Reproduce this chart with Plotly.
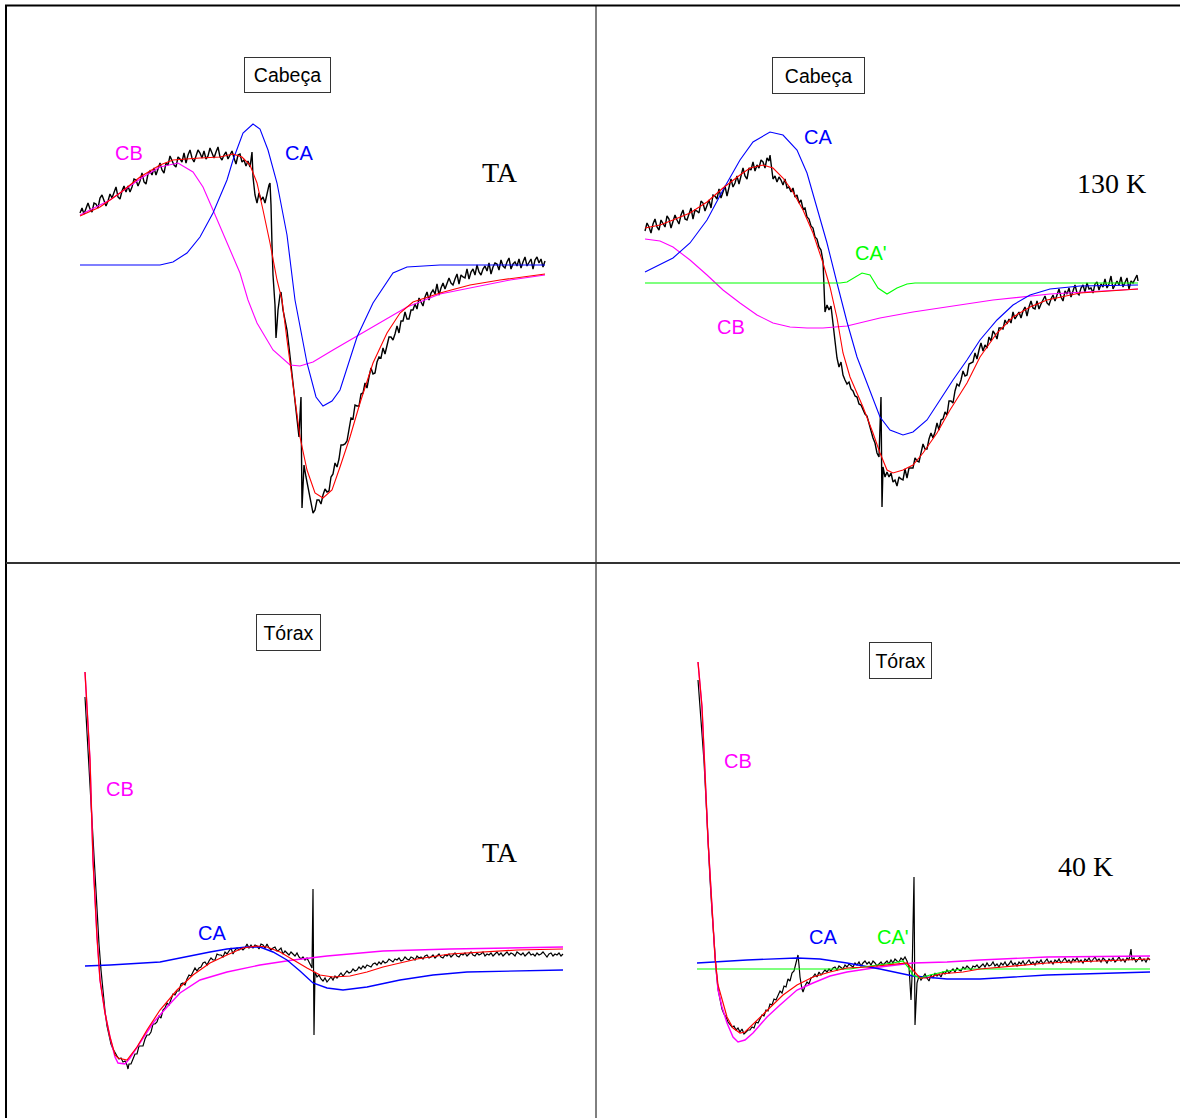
import plotly.graph_objects as go

W, H = 1180, 1118

# ---------------- Panel 1 : Cabeça, TA ----------------
p1_black = [(0,52),(2,57),(4,51),(6,57),(8,62),(10,56),(12,53),(14,62),(16,61),(18,57),(20,67),(22,70),(24,64),(26,59),(28,64),(30,71),(32,67),(34,72),(36,78),(38,68),(40,66),(42,74),(44,79),(46,73),(48,79),(50,73),(52,78),(54,86),(56,85),(58,79),(60,84),(62,92),(64,83),(66,81),(68,91),(70,94),(72,90),(74,97),(76,90),(78,96),(80,102),(82,95),(84,92),(86,102),(88,100),(90,109),(92,104),(94,100),(96,98),(98,108),(100,106),(102,103),(104,112),(106,102),(108,110),(110,115),(112,107),(114,103),(116,109),(118,115),(120,112),(122,107),(124,114),(126,106),(128,109),(130,117),(132,112),(134,107),(136,113),(138,118),(140,108),(142,105),(144,110),(146,113),(148,106),(150,111),(152,114),(154,107),(156,101),(158,110),(160,111),(162,103),(164,105),(166,99),(168,104),
            (170,98),(172,113),(173,88),(175,70),(177,62),(179,72),(181,65),(183,68),(185,62),(187,72),(189,80),(190,82),(191,60),(192,20),(193,-10),(195,-40),(196,-73),(197,-60),(198,-45),(200,-30),(201,-27),(203,-45),(205,-55),(207,-65),(209,-82),(211,-100),(213,-118),(215,-140),(217,-160),(219,-172),(220,-150),(221,-132),(222,-243),(223,-220),(224,-200),(226,-212),(228,-222),(230,-232),(232,-240),(233,-248),
            (235,-245),(237,-235),(239,-235),(241,-239),(243,-230),(245,-224),(247,-227),(249,-226),(251,-212),(253,-209),(255,-198),(257,-202),(259,-194),(261,-180),(263,-180),(265,-179),(267,-176),(269,-162),(271,-153),(273,-154),(275,-140),(277,-141),(279,-141),(281,-129),(283,-128),(285,-118),(287,-123),(289,-112),(291,-103),(293,-109),(295,-108),(297,-97),(299,-92),(301,-93),(303,-83),(305,-89),(307,-81),(309,-72),(311,-72),(313,-75),(315,-69),(317,-61),(319,-68),(321,-56),(323,-56),(325,-47),(327,-54),(329,-54),(331,-45),(333,-45),(335,-39),(337,-44),(339,-33),(341,-38),(343,-41),(345,-32),(347,-27),(349,-35),(351,-28),(353,-25),(355,-29),(357,-19),(359,-30),(361,-23),(363,-18),(365,-24),(367,-18),(369,-13),(371,-18),(373,-20),(375,-14),(377,-9),(379,-19),(381,-10),(383,-12),(385,-13),(387,-4),(389,-14),(391,-7),(393,-4),(395,-10),(397,0),(399,-7),(401,-10),(403,-4),(405,-1),(407,-6),(409,2),(411,-9),(413,-2),(415,2),(417,1),(419,-5),(421,5),(423,-1),(425,-3),(427,3),(429,7),(431,-4),(433,1),(435,3),(437,-1),(439,6),(441,-3),(443,3),(445,8),(447,-1),(449,2),(451,6),(453,-4),(455,5),(457,8),(459,2),(461,6),(463,-2),(465,4)]
p1_red_x = [0,20,40,60,80,93,120,140,153,162,170,177,183,190,197,202,207,213,220,227,235,243,252,260,270,280,293,307,320,333,347,360,390,420,465]
p1_red_y = [49,58,72,88,100,105,107,108,111,108,100,82,55,22,-15,-35,-75,-118,-172,-205,-228,-233,-225,-202,-172,-138,-98,-68,-48,-37,-32,-28,-20,-15,-9]
p1_mag_x = [0,30,47,63,80,98,113,123,133,147,160,168,177,193,210,220,233,253,277,300,327,360,400,430,465]
p1_mag_y = [50,65,77,88,98,102,93,78,55,22,-8,-35,-58,-85,-100,-101,-97,-85,-71,-57,-42,-29,-21,-15,-10]
p1_blue_x = [0,80,93,107,120,133,147,153,163,173,180,188,197,207,215,227,236,243,252,260,277,293,313,327,360,465]
p1_blue_y = [0,0,3,12,28,52,85,105,132,141,136,115,82,30,-35,-98,-132,-141,-136,-125,-72,-38,-8,-2,0,0]

# ---------------- Panel 2 : Cabeça, 130 K ----------------
p2_black = [(0,52),(2,60),(4,56),(6,50),(8,59),(10,64),(12,56),(14,53),(16,63),(18,60),(20,56),(22,67),(24,64),(26,55),(28,62),(30,68),(32,63),(34,59),(36,68),(38,73),(40,64),(42,63),(44,69),(46,75),(48,64),(50,73),(52,72),(54,70),(56,82),(58,80),(60,72),(62,77),(64,83),(66,75),(68,88),(70,87),(72,84),(74,94),(76,85),(78,91),(80,97),(82,87),(84,97),(86,104),(88,96),(90,100),(92,107),(94,99),(96,107),(98,115),(100,107),(102,104),(104,115),(106,113),(108,121),(110,112),(112,118),(114,115),(116,123),(118,121),(120,115),(122,125),(124,122),(125,128),(127,112),
            (128,104),(130,107),(132,101),(134,106),(136,103),(138,98),(140,104),(142,95),(144,96),(146,91),(148,95),(150,86),(152,88),(154,80),(156,83),(158,74),(160,75),(162,66),(164,64),(166,57),(168,55),(170,46),(172,44),(174,36),(176,33),(178,22),
            (180,-29),(182,-22),(184,-27),(186,-23),(188,-44),(190,-58),(192,-75),(194,-84),(196,-79),(198,-92),(200,-97),(202,-101),(204,-99),(206,-106),(208,-108),(210,-113),(212,-114),(214,-121),(216,-122),(218,-126),(220,-131),(222,-133),(224,-141),(226,-148),(228,-155),(230,-160),(232,-170),(234,-174),(236,-114),(237,-224),(238,-184),
            (240,-194),(242,-189),(244,-194),(246,-190),(248,-199),(250,-197),(252,-203),(254,-194),(256,-196),(258,-197),(260,-186),(262,-195),(264,-185),(266,-185),(268,-185),(270,-175),(272,-178),(274,-179),(276,-169),(278,-161),(280,-166),(282,-166),(284,-156),(286,-150),(288,-155),(290,-149),(292,-140),(294,-147),(296,-137),(298,-136),(300,-129),(302,-132),(304,-118),(306,-118),(308,-120),(310,-108),(312,-101),(314,-103),(316,-97),(318,-88),(320,-93),(322,-92),(324,-81),(326,-80),(328,-79),(330,-70),(332,-76),(334,-67),(336,-60),(338,-68),(340,-62),(342,-65),(344,-54),(346,-58),(348,-48),(350,-51),(352,-56),(354,-45),(356,-45),(358,-46),(360,-37),(362,-41),(364,-36),(366,-40),(368,-29),(370,-36),(372,-33),(374,-29),(376,-35),(378,-28),(380,-24),(382,-33),(384,-24),(386,-18),(388,-25),(390,-26),(392,-18),(394,-26),(396,-21),(398,-17),(400,-13),(402,-20),(404,-22),(406,-16),(408,-12),(410,-18),(412,-13),(414,-6),(416,-14),(418,-18),(420,-8),(422,-11),(424,-5),(426,-14),(428,-8),(430,-2),(432,-10),(434,-12),(436,-5),(438,-2),(440,-9),(442,0),(444,-6),(446,-5),(448,-10),(450,-1),(452,1),(454,-7),(456,-1),(458,-4),(460,4),(462,-5),(464,-1),(466,7),(468,-6),(470,-1),(472,2),(474,-2),(476,6),(478,-4),(480,1),(482,5),(484,-6),(486,2),(488,0),(490,4),(492,8),(493,2)]
p2_red_x = [0,15,28,45,62,78,95,105,118,128,138,148,158,168,178,185,192,198,205,218,228,235,242,248,258,268,278,292,305,322,335,352,368,385,402,435,493]
p2_red_y = [55,58,63,70,81,95,108,115,118,115,105,91,73,50,20,-4,-35,-70,-94,-124,-150,-170,-187,-190,-187,-182,-170,-150,-127,-100,-74,-50,-34,-24,-17,-10,-6]
p2_mag_x = [0,15,28,45,62,78,95,112,128,145,162,178,202,235,268,302,348,405,455,493]
p2_mag_y = [44,42,36,23,8,-7,-20,-32,-40,-44,-45,-45,-43,-35,-29,-24,-17,-11,-8,-6]
p2_blue_x = [0,28,45,62,78,95,108,125,138,152,162,172,182,192,202,212,222,235,245,258,268,282,295,308,322,335,352,368,385,405,435,493]
p2_blue_y = [11,25,40,63,93,123,141,151,148,133,110,76,40,0,-39,-74,-100,-134,-147,-152,-149,-137,-117,-97,-77,-57,-37,-22,-12,-6,-3,-2]
p2_green_x = [0,195,202,217,225,233,242,252,262,270,493]
p2_green_y = [0,0,1,10,8,-5,-11,-5,-1,0,0]

# ---------------- Panel 3 : Tórax, TA ----------------
p3_black = [(1,269),(3,232),(5,200),(7,168),(9,128),(11,88),(13,52),(15,22),(17,-4),(19,-26),(21,-45),(23,-60),(25,-70),(27,-78),(29,-83),(31,-87),(33,-90),(35,-93),(37,-92),(39,-96),(41,-95),(43,-99),(44,-103),
            (45,-98),(47,-98),(49,-93),(51,-88),(53,-88),(55,-80),(57,-80),(59,-80),(61,-73),(63,-69),(65,-69),(67,-66),(69,-58),(71,-58),(73,-56),(75,-50),(77,-52),(79,-44),(81,-42),(83,-37),(85,-39),(87,-33),(89,-28),(91,-29),(93,-25),(95,-25),(97,-18),(99,-17),(101,-19),(103,-13),(105,-9),(107,-10),(109,-6),(111,-2),(113,-5),(115,-2),(117,-1),(119,3),(121,4),(123,1),(125,5),(127,8),(129,6),(131,6),(133,12),(135,11),(137,11),(139,9),(141,14),(143,12),(145,15),(147,18),(149,12),(151,16),(153,18),(155,16),(157,18),(159,16),(161,18),(163,22),(165,18),(167,21),(169,18),(171,21),(173,20),(175,17),(177,22),(179,21),(181,18),(183,22),(185,18),(187,16),(189,18),(191,19),(193,15),(195,16),(197,18),(199,12),(201,15),(203,13),(205,11),(207,14),(209,12),(211,10),(213,13),(215,9),(217,7),(219,9),(221,6),(223,8),(225,4),(227,-1),(228,-2),(229,77),(230,-69),
            (231,-6),(233,-11),(235,-9),(237,-13),(239,-15),(241,-12),(243,-16),(245,-13),(247,-11),(249,-14),(251,-10),(253,-12),(255,-9),(257,-7),(259,-10),(261,-8),(263,-5),(265,-7),(267,-6),(269,-3),(271,-5),(273,-4),(275,-1),(277,-3),(279,0),(281,-2),(283,1),(285,0),(287,-1),(289,2),(291,3),(293,1),(295,4),(297,2),(299,5),(301,3),(303,4),(305,7),(307,5),(309,4),(311,7),(313,6),(315,8),(317,5),(319,6),(321,9),(323,7),(325,6),(327,9),(329,8),(331,6),(333,10),(335,8),(337,9),(339,7),(341,10),(343,11),(345,8),(347,9),(349,11),(351,8),(353,10),(355,12),(357,9),(359,8),(361,11),(363,10),(365,12),(367,9),(369,11),(371,13),(373,10),(375,9),(377,12),(379,11),(381,13),(383,10),(385,12),(387,14),(389,11),(391,10),(393,13),(395,11),(397,12),(399,14),(401,10),(403,12),(405,11),(407,13),(409,10),(411,12),(413,14),(415,11),(417,13),(419,10),(421,12),(423,14),(425,11),(427,13),(429,12),(431,10),(433,14),(435,12),(437,11),(439,13),(441,10),(443,12),(445,14),(447,11),(449,12),(451,10),(453,13),(455,11),(457,12),(459,14),(461,11),(463,9),(465,12),(467,13),(469,10),(471,12),(473,11),(475,13),(477,10),(479,12)]
p3_red_x = [1,6,9,13,16,21,26,31,34,43,53,63,76,93,109,126,143,159,173,183,196,209,223,236,249,266,283,299,333,366,399,433,479]
p3_red_y = [294,206,106,29,-14,-47,-71,-89,-92,-94,-81,-64,-44,-24,-9,3,11,18,20,19,14,6,-2,-9,-11,-10,-6,-1,7,12,14,16,17]
p3_mag_x = [1,6,9,13,16,21,26,31,34,41,46,56,69,83,96,116,143,176,209,243,299,366,433,479]
p3_mag_y = [294,206,106,29,-14,-47,-71,-91,-97,-98,-92,-77,-57,-41,-27,-14,-6,1,6,10,15,17,18,19]
p3_blue_x = [1,26,76,109,126,143,163,176,189,203,216,229,243,259,283,316,349,383,433,479]
p3_blue_y = [0,1,4,11,14,17,19,19,14,6,-5,-17,-22,-24,-21,-14,-9,-6,-5,-4]

# ---------------- Panel 4 : Tórax, 40 K ----------------
p4_black = [(1,289),(3,265),(5,240),(7,208),(9,170),(11,124),(13,90),(15,58),(17,25),(19,0),(21,-20),(23,-31),(25,-40),(27,-45),(29,-48),(31,-53),(33,-55),(35,-58),(37,-57),(39,-61),(41,-59),(43,-63),(45,-60),(47,-65),(49,-63),(51,-61),
            (53,-61),(55,-58),(57,-59),(59,-53),(61,-54),(63,-49),(65,-46),(67,-47),(69,-41),(71,-42),(73,-35),(75,-36),(77,-30),(79,-31),(81,-26),(83,-22),(85,-24),(87,-17),(89,-18),(91,-10),(93,-12),(95,-4),(97,-2),(99,6),(100,10),(101,14),(102,4),(103,-8),(105,-20),(106,-23),(108,-17),(110,-13),(112,-15),(114,-9),(116,-8),(118,-5),(120,-8),(122,-3),(124,-6),(126,-4),(128,-1),(130,-3),(132,0),(134,-2),(136,1),(138,2),(140,-1),(142,3),(144,1),(146,0),(148,4),(150,2),(152,5),(154,3),(156,2),(158,6),(160,4),(162,7),(164,3),(166,6),(168,8),(170,5),(172,7),(174,4),(176,8),(178,6),(180,3),(182,5),(184,7),(186,4),(188,6),(190,8),(192,5),(194,9),(196,6),(198,10),(200,8),(202,7),(204,11),(206,9),(208,12),(210,8),(212,2),(214,-31),(215,-8),(216,30),(217,92),(218,-56),(219,-30),(220,-14),
            (222,-7),(224,-11),(226,-8),(228,-5),(230,-9),(232,-12),(234,-6),(236,-9),(238,-4),(240,-7),(242,-5),(244,-8),(246,-3),(248,-5),(250,-1),(252,-4),(254,-2),(256,0),(258,-3),(260,1),(262,-1),(264,-2),(266,2),(268,0),(270,3),(272,1),(274,-1),(276,3),(278,2),(280,4),(282,1),(284,3),(286,5),(288,2),(290,6),(292,3),(294,4),(296,7),(298,3),(300,5),(302,2),(304,6),(306,4),(308,7),(310,3),(312,5),(314,8),(316,4),(318,6),(320,3),(322,7),(324,5),(326,8),(328,4),(330,6),(332,9),(334,5),(336,7),(338,4),(340,8),(342,6),(344,9),(346,5),(348,7),(350,10),(352,6),(354,8),(356,5),(358,9),(360,7),(362,10),(364,6),(366,8),(368,11),(370,7),(372,9),(374,6),(376,10),(378,8),(380,11),(382,7),(384,9),(386,6),(388,10),(390,8),(392,11),(394,7),(396,9),(398,12),(400,8),(402,10),(404,7),(406,11),(408,9),(410,6),(412,10),(414,8),(416,11),(418,7),(420,9),(422,12),(424,8),(426,10),(428,7),(430,11),(432,9),(434,20),(435,9),(437,11),(439,7),(441,10),(443,12),(445,8),(447,10),(449,7),(451,11),(453,9)]
p4_red_x = [1,5,8,11,15,18,21,25,30,36,43,48,60,73,86,100,116,133,150,170,190,203,210,216,223,230,243,266,283,350,416,453]
p4_red_y = [307,262,196,129,62,12,-16,-31,-48,-59,-64,-63,-51,-38,-26,-16,-8,-3,1,2,4,6,6,-1,-9,-9,-5,-3,0,6,9,10]
p4_mag_x = [1,5,8,11,15,18,21,25,30,36,41,48,56,70,83,100,116,133,150,183,216,250,283,350,453]
p4_mag_y = [307,262,196,129,62,12,-21,-38,-54,-68,-73,-71,-64,-48,-36,-21,-14,-7,-3,2,6,7,9,12,13]
p4_blue_x = [0,50,100,123,150,183,216,250,283,350,453]
p4_blue_y = [6,9,11,10,6,0,-7,-10,-10,-6,-3]
p4_green_x = [0,153,166,183,196,206,211,216,223,233,250,266,453]
p4_green_y = [0,0,2,4,6,8,2,-6,-9,-6,-2,0,0]

BLACK, RED, MAG, BLUE, GREEN = "#000000", "#FF0000", "#FF00FF", "#0000FF", "#00FF00"

def xs(pairs): return [p[0] for p in pairs]
def ys(pairs): return [p[1] for p in pairs]

# cell: (left, right, top, bottom) in px; data origin (x0 px, baseline px)
panels = [
    dict(cell=(6, 596, 6, 563), x0=80, base=265,
         series=[(xs(p1_black), ys(p1_black), BLACK, 1.4), (p1_mag_x, p1_mag_y, MAG, 1.1),
                 (p1_blue_x, p1_blue_y, BLUE, 1.1), (p1_red_x, p1_red_y, RED, 1.1)]),
    dict(cell=(596, 1180, 6, 563), x0=645, base=283,
         series=[(xs(p2_black), ys(p2_black), BLACK, 1.4), (p2_mag_x, p2_mag_y, MAG, 1.1),
                 (p2_blue_x, p2_blue_y, BLUE, 1.1), (p2_green_x, p2_green_y, GREEN, 1.1),
                 (p2_red_x, p2_red_y, RED, 1.1)]),
    dict(cell=(6, 596, 563, 1118), x0=84, base=966,
         series=[(xs(p3_black), ys(p3_black), BLACK, 1.2), (p3_mag_x, p3_mag_y, MAG, 1.4),
                 (p3_blue_x, p3_blue_y, BLUE, 1.4), (p3_red_x, p3_red_y, RED, 1.2)]),
    dict(cell=(596, 1180, 563, 1118), x0=697, base=969,
         series=[(xs(p4_black), ys(p4_black), BLACK, 1.2), (p4_mag_x, p4_mag_y, MAG, 1.4),
                 (p4_blue_x, p4_blue_y, BLUE, 1.4), (p4_green_x, p4_green_y, GREEN, 1.2),
                 (p4_red_x, p4_red_y, RED, 1.2)]),
]

fig = go.Figure()
layout = dict(width=W, height=H, margin=dict(l=0, r=0, t=0, b=0),
              paper_bgcolor="white", plot_bgcolor="white", showlegend=False)

for i, p in enumerate(panels, start=1):
    L, R, T, B = p["cell"]
    sx = "" if i == 1 else str(i)
    layout["xaxis" + sx] = dict(domain=[L / W, R / W], range=[L - p["x0"], R - p["x0"]],
                                visible=False, anchor="y" + sx, fixedrange=True)
    layout["yaxis" + sx] = dict(domain=[1 - B / H, 1 - T / H], range=[p["base"] - B, p["base"] - T],
                                visible=False, anchor="x" + sx, fixedrange=True)
    for xv, yv, col, w in p["series"]:
        fig.add_trace(go.Scatter(x=xv, y=yv, mode="lines", line=dict(color=col, width=w),
                                 xaxis="x" + sx, yaxis="y" + sx, hoverinfo="skip"))

def pxx(x): return x / W
def pyy(y): return 1 - y / H

ann = []
SANS = "Liberation Sans, Arial, sans-serif"
SERIF = "Liberation Serif, Times New Roman, serif"

def label(text, x, y, color, size=20, font=SANS):
    ann.append(dict(text=text, x=pxx(x), y=pyy(y), xref="paper", yref="paper",
                    xanchor="center", yanchor="middle", showarrow=False,
                    font=dict(family=font, size=size, color=color)))

def boxed(text, x, y, w, h):
    ann.append(dict(text=text, x=pxx(x), y=pyy(y), xref="paper", yref="paper",
                    xanchor="center", yanchor="middle", showarrow=False,
                    width=w, height=h, borderpad=0, borderwidth=1, bordercolor="#333333",
                    bgcolor="white", font=dict(family=SANS, size=19.5, color="black")))

boxed("Cabeça", 287.5, 75, 85, 34)
label("CB", 129, 153, MAG)
label("CA", 299, 153, BLUE)
label("TA", 500, 173, "black", 28, SERIF)

boxed("Cabeça", 818.5, 75.5, 91, 35)
label("CA", 818, 137, BLUE)
label("CA'", 871, 253, GREEN)
label("CB", 731, 327, MAG)
label("130 K", 1111, 183, "black", 28, SERIF)

boxed("Tórax", 288.5, 632.5, 63, 35)
label("CB", 120, 789, MAG)
label("CA", 212, 933, BLUE)
label("TA", 500, 853, "black", 28, SERIF)

boxed("Tórax", 900.5, 660, 61, 35)
label("CB", 738, 761, MAG)
label("CA", 823, 937, BLUE)
label("CA'", 893, 937, GREEN)
label("40 K", 1085, 866, "black", 28, SERIF)

layout["annotations"] = ann

def line(x0, y0, x1, y1, w, c="black"):
    return dict(type="line", xref="paper", yref="paper", x0=pxx(x0), y0=pyy(y0),
                x1=pxx(x1), y1=pyy(y1), line=dict(color=c, width=w))

layout["shapes"] = [
    line(5, 5.5, 1180, 5.5, 2),
    line(6, 5, 6, 1118, 2),
    line(596, 5, 596, 1118, 1),
    line(6, 563, 1180, 563, 2, "#333333"),
]

fig.update_layout(**layout)
fig.write_html("out.html")
